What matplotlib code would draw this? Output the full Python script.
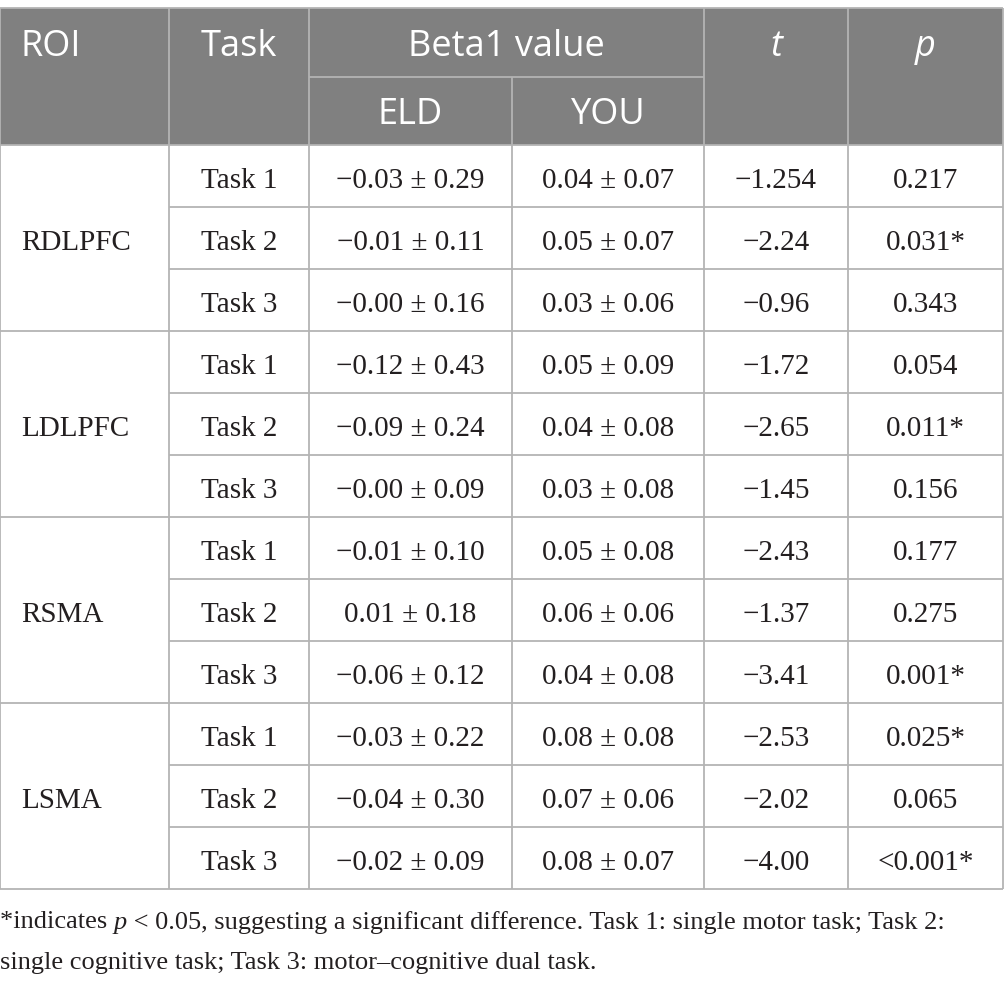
import matplotlib
matplotlib.use("Agg")
import matplotlib.pyplot as plt

# table content
rois = ["RDLPFC", "LDLPFC", "RSMA", "LSMA"]
tasks = ["Task 1", "Task 2", "Task 3"]
eld = ["−0.03 ± 0.29", "−0.01 ± 0.11", "−0.00 ± 0.16",
       "−0.12 ± 0.43", "−0.09 ± 0.24", "−0.00 ± 0.09",
       "−0.01 ± 0.10", "0.01 ± 0.18", "−0.06 ± 0.12",
       "−0.03 ± 0.22", "−0.04 ± 0.30", "−0.02 ± 0.09"]
you = ["0.04 ± 0.07", "0.05 ± 0.07", "0.03 ± 0.06",
       "0.05 ± 0.09", "0.04 ± 0.08", "0.03 ± 0.08",
       "0.05 ± 0.08", "0.06 ± 0.06", "0.04 ± 0.08",
       "0.08 ± 0.08", "0.07 ± 0.06", "0.08 ± 0.07"]
t_vals = ["−1.254", "−2.24", "−0.96",
          "−1.72", "−2.65", "−1.45",
          "−2.43", "−1.37", "−3.41",
          "−2.53", "−2.02", "−4.00"]
p_vals = ["0.217", "0.031*", "0.343",
          "0.054", "0.011*", "0.156",
          "0.177", "0.275", "0.001*",
          "0.025*", "0.065", "<0.001*"]

# layout in pixels
W, H = 1005, 984
cols = [0, 169, 309, 512, 704, 848, 1003]
top, h1, h2 = 8, 77, 145
row_h = 62
n_rows = len(rois) * len(tasks)
bottom = h2 + n_rows * row_h

head_bg = "#808080"
grid_c = "#b4b4b4"
lw = 1.3
head_font = dict(family="Open Sans", size=26, color="white")
body_font = dict(family="Liberation Serif", size=21, color="#231f20")

fig = plt.figure(figsize=(W / 100, H / 100), dpi=100)
ax = fig.add_axes([0, 0, 1, 1])
ax.set_xlim(0, W)
ax.set_ylim(H, 0)
ax.axis("off")

# header background
ax.fill_between([cols[0], cols[-1]], top, h2, color=head_bg, lw=0)

# header text
yh1 = (top + h1) / 2
yh2 = (h1 + h2) / 2
ax.text(20, yh1, "ROI", ha="left", va="center_baseline", **head_font)
ax.text((cols[1] + cols[2]) / 2, yh1, "Task", ha="center", va="center_baseline", **head_font)
ax.text((cols[2] + cols[4]) / 2, yh1, "Beta1 value", ha="center", va="center_baseline", **head_font)
ax.text((cols[2] + cols[3]) / 2, yh2, "ELD", ha="center", va="center_baseline", **head_font)
ax.text((cols[3] + cols[4]) / 2, yh2, "YOU", ha="center", va="center_baseline", **head_font)
ax.text((cols[4] + cols[5]) / 2, yh1, "t", ha="center", va="center_baseline", style="italic", **head_font)
ax.text((cols[5] + cols[6]) / 2, yh1, "p", ha="center", va="center_baseline", style="italic", **head_font)

# body text
for i in range(n_rows):
    yc = h2 + (i + 0.5) * row_h + 2
    cells = [tasks[i % 3], eld[i], you[i], t_vals[i], p_vals[i]]
    for j, s in enumerate(cells):
        ax.text((cols[j + 1] + cols[j + 2]) / 2, yc, s, ha="center", va="center_baseline", **body_font)
for g, name in enumerate(rois):
    yc = h2 + (g * 3 + 1.5) * row_h + 2
    ax.text(21, yc, name, ha="left", va="center_baseline", **body_font)

# grid lines
ax.hlines([top, h2, bottom], cols[0], cols[-1], color=grid_c, lw=lw)
ax.hlines(h1, cols[2], cols[4], color=grid_c, lw=lw)
for i in range(1, n_rows):
    y = h2 + i * row_h
    x0 = cols[0] if i % 3 == 0 else cols[1]
    ax.hlines(y, x0, cols[-1], color=grid_c, lw=lw)
ax.vlines([cols[0], cols[-1]], top, bottom, color=grid_c, lw=lw)
ax.vlines([cols[1], cols[2], cols[4], cols[5]], top, bottom, color=grid_c, lw=lw)
ax.vlines(cols[3], h1, bottom, color=grid_c, lw=lw)

# footnote with italic p
note_font = dict(family="Liberation Serif", size=19, color="#231f20")
fig.canvas.draw()
r = fig.canvas.get_renderer()
x = 0
y1 = 920
for s, st in [("*indicates ", "normal"), ("p", "italic"),
              (" < 0.05, suggesting a significant difference. Task 1: single motor task; Task 2:", "normal")]:
    tx = ax.text(x, y1, s, ha="left", va="center_baseline", style=st, **note_font)
    x += tx.get_window_extent(r).width
ax.text(0, 960, "single cognitive task; Task 3: motor–cognitive dual task.",
        ha="left", va="center_baseline", **note_font)

fig.savefig("out.png", dpi=100)
